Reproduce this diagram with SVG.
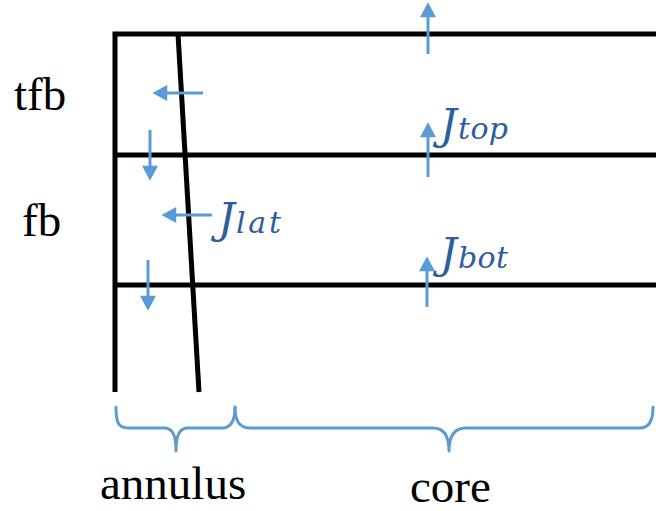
<svg xmlns="http://www.w3.org/2000/svg" width="656" height="511" viewBox="0 0 656 511">
<defs>
<style>
.wall{stroke:#000;stroke-width:5;fill:none;stroke-linejoin:miter;}
.arr{stroke:#5B9BD5;stroke-width:3;fill:none;marker-end:url(#ah);}
.brace{stroke:#5B9BD5;stroke-width:3;fill:none;stroke-linecap:round;stroke-linejoin:round;}
.lbl{font-size:47px;fill:#000;}
.J{font-style:italic;fill:#2E5D9E;}
</style>
<marker id="ah" markerUnits="userSpaceOnUse" markerWidth="16" markerHeight="16" viewBox="0 0 14 15" refX="4" refY="7.5" orient="auto">
<path d="M0,0 L14,7.5 L0,15 z" fill="#5B9BD5"/>
</marker>
</defs>
<rect width="656" height="511" fill="#fff"/>
<g id="walls">
<path class="wall" d="M115,392 V34 H656"/>
<path class="wall" d="M115,155 H656"/>
<path class="wall" d="M115,285 H656"/>
<path class="wall" d="M178,34 L199,392"/>
</g>
<g id="connectors">
<line class="arr" x1="428" y1="54" x2="428" y2="13"/>
<line class="arr" x1="203" y1="93" x2="163" y2="93"/>
<line class="arr" x1="150" y1="130" x2="150" y2="170"/>
<line class="arr" x1="428" y1="177" x2="428" y2="133"/>
<line class="arr" x1="212" y1="215" x2="172" y2="215"/>
<line class="arr" x1="148" y1="260" x2="148" y2="300"/>
<line class="arr" x1="427" y1="307" x2="427" y2="267"/>
</g>
<g id="labels" font-family="'Liberation Serif', 'Times New Roman', serif">
<text class="lbl" x="14" y="110">tfb</text>
<text class="lbl" x="22" y="236">fb</text>
</g>
<g id="Jtop" font-family="'DejaVu Serif', 'Liberation Serif', serif">
<text class="J" x="440" y="139" font-size="42">J</text>
<text class="J" x="458" y="139" font-size="30" textLength="50" lengthAdjust="spacing">top</text>
</g>
<g id="Jlat" font-family="'DejaVu Serif', 'Liberation Serif', serif">
<text class="J" x="218" y="233" font-size="42">J</text>
<text class="J" x="236" y="233" font-size="30" textLength="45" lengthAdjust="spacing">lat</text>
</g>
<g id="Jbot" font-family="'DejaVu Serif', 'Liberation Serif', serif">
<text class="J" x="440" y="268" font-size="42">J</text>
<text class="J" x="458" y="268" font-size="30" textLength="50" lengthAdjust="spacing">bot</text>
</g>
<g id="annulus">
<path class="brace" d="M116,407 C116,422 118,428 128,428 H164 C172,428 176,434 176,451 C176,434 180,428 188,428 H222 C230,428 235,422 235,407"/>
<text class="lbl" x="100" y="499" font-family="'Liberation Serif', 'Times New Roman', serif">annulus</text>
</g>
<g id="core">
<path class="brace" d="M235,407 C235,422 240,428 250,428 H433 C442,428 449,434 449,451 C449,434 456,428 466,428 H640 C648,428 653,422 653,407"/>
<text class="lbl" x="410" y="502" font-family="'Liberation Serif', 'Times New Roman', serif">core</text>
</g>
</svg>
